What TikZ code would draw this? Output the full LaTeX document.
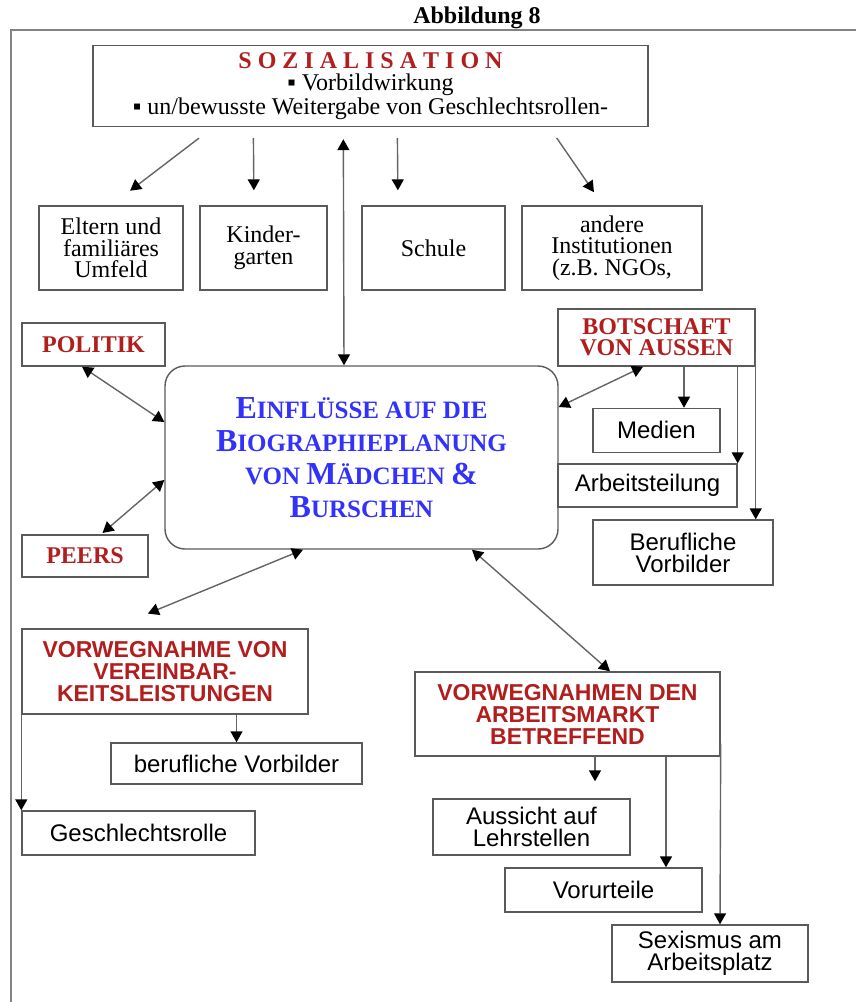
\documentclass[tikz,border=0pt]{standalone}
\usepackage{fontspec}
\setmainfont{Liberation Serif}
\setsansfont{Liberation Sans}
\usetikzlibrary{arrows.meta, positioning}
\definecolor{headred}{RGB}{178,30,30}
\definecolor{mainblue}{RGB}{50,50,250}
\definecolor{boxgray}{RGB}{90,90,90}
\definecolor{linegray}{RGB}{100,100,100}
\tikzstyle{box} = [rectangle, draw=boxgray, line width=0.7pt, inner sep=0pt, align=center, font=\fontsize{12}{10.8}\selectfont]
\tikzstyle{sansbox} = [box, font=\sffamily\fontsize{12}{11}\selectfont]
\tikzstyle{redbox} = [box, text=headred, font=\bfseries\fontsize{12}{10.5}\selectfont]
\tikzstyle{redsansbox} = [box, text=headred, font=\sffamily\bfseries\fontsize{11.5}{11}\selectfont]
\tikzstyle{mainbox} = [box, rounded corners=10pt, text=mainblue, font=\bfseries\fontsize{12.5}{16.5}\selectfont]
\tikzstyle{arrow} = [draw=linegray, line width=0.7pt, -{Triangle[length=5.5pt,width=6pt,color=black]}]
\tikzstyle{dblarrow} = [arrow, {Triangle[length=5.5pt,width=6pt,color=black]}-{Triangle[length=5.5pt,width=6pt,color=black]}]
\newcommand{\initcap}[1]{{\fontsize{16}{16.5}\selectfont #1}}

\begin{document}
\begin{tikzpicture}[x=0.5pt, y=-0.5pt]
\useasboundingbox (0,0) rectangle (856,1002);
% Frame and title
\draw [linegray!80, line width=0.7pt] (11,1002) -- (11,30) -- (856,30);
\node (title) at (477,18) {\bfseries\fontsize{12}{14}\selectfont Abbildung 8};
% Row 1
\node (soz) [box, minimum width=277.5pt, minimum height=40.5pt] at (370.5,86) {{\color{headred}\bfseries S O Z I A L I S A T I O N}\\▪ Vorbildwirkung\\▪ un/bewusste Weitergabe von Geschlechtsrollen-};
% Row 2
\node (eltern) [box, minimum width=72pt, minimum height=42pt] at (111,248) {Eltern und\\familiäres\\Umfeld};
\node (kinder) [box, minimum width=63.5pt, minimum height=42pt] at (263.5,248) {Kinder-\\garten};
\node (schule) [box, minimum width=71.5pt, minimum height=42pt] at (433.5,248) {Schule};
\node (andere) [box, minimum width=90pt, minimum height=42pt] at (612,248) {andere\\Institutionen\\(z.B. NGOs,};
% Row 3
\node (politik) [redbox, minimum width=71.5pt, minimum height=21.5pt] at (93.5,344.5) {POLITIK};
\node (main) [mainbox, minimum width=196.5pt, minimum height=91.5pt] at (361.5,457.5) {\initcap{E}INFLÜSSE AUF DIE\\\initcap{B}IOGRAPHIEPLANUNG\\VON \initcap{M}ÄDCHEN \initcap{\&}\\\initcap{B}URSCHEN};
\node (peers) [redbox, minimum width=63pt, minimum height=21pt] at (85,556) {PEERS};
\node (botschaft) [redbox, minimum width=98.5pt, minimum height=28.5pt] at (656.5,337.5) {BOTSCHAFT\\VON AUSSEN};
\node (medien) [sansbox, minimum width=63.5pt, minimum height=22pt, below=20.5pt of botschaft] {Medien};
\node (arbeit) [sansbox, minimum width=89.5pt, minimum height=21.5pt] at (647.5,485.5) {Arbeitsteilung};
\node (beruf) [sansbox, minimum width=90pt, minimum height=32.5pt] at (683,552.5) {Berufliche\\Vorbilder};
% Row 4
\node (vorweg1) [redsansbox, minimum width=143pt, minimum height=42.5pt] at (165,671.5) {VORWEGNAHME VON\\VEREINBAR-\\KEITSLEISTUNGEN};
\node (berufv) [sansbox, minimum width=125.5pt, minimum height=20.5pt] at (236.5,763.5) {berufliche Vorbilder};
\node (geschl) [sansbox, minimum width=116.5pt, minimum height=22pt] at (138.5,833) {Geschlechtsrolle};
\node (vorweg2) [redsansbox, minimum width=152.5pt, minimum height=42pt] at (567.5,714) {VORWEGNAHMEN DEN\\ARBEITSMARKT\\BETREFFEND};
\node (aussicht) [sansbox, minimum width=98.5pt, minimum height=28pt] at (531.5,827) {Aussicht auf\\Lehrstellen};
\node (vorurteile) [sansbox, minimum width=98.5pt, minimum height=22pt] at (603.5,890) {Vorurteile};
\node (sexismus) [sansbox, minimum width=98pt, minimum height=28.5pt] at (710,953.5) {Sexismus am\\Arbeitsplatz};

% Arrows
\draw [arrow, shorten <=9pt, shorten >=12pt] ([xshift=60.5pt]soz.south west) -- (eltern.north);
\draw [arrow, shorten <=5.5pt, shorten >=7.5pt] ([xshift=80.5pt]soz.south west) -- ([xshift=-4.75pt]kinder.north);
\draw [arrow, shorten <=5.5pt, shorten >=7.5pt] ([xshift=152.5pt]soz.south west) -- ([xshift=-17.75pt]schule.north);
\draw [arrow, shorten <=6.5pt, shorten >=8pt] ([xshift=228.5pt]soz.south west) -- ([xshift=-4.5pt]andere.north);
\draw [dblarrow, shorten >=6pt] ([xshift=-8.75pt]main.north) -- ([xshift=125.5pt]soz.south west);
\draw [dblarrow] ([xshift=-5.75pt]politik.south) -- ([yshift=17.75pt]main.west);
\draw [dblarrow, shorten <=1pt] ([xshift=8pt]peers.north) -- ([yshift=-11.25pt]main.west);
\draw [dblarrow] ([xshift=-6.75pt]botschaft.south) -- ([yshift=25.25pt]main.east);
\draw [arrow] ([xshift=13.75pt]botschaft.south) -- ([xshift=13.75pt]medien.north);
\draw [arrow] (botschaft.south -| arbeit.north east) -- (arbeit.north east);
\draw [arrow] ([yshift=7pt]botschaft.south east) -- (botschaft.south east |- beruf.north);
\draw [dblarrow, shorten >=19.4pt] ([xshift=-29.25pt]main.south) -- ([xshift=-26.5pt]vorweg1.north);
\draw [arrow] ([xshift=35.75pt]vorweg1.south) -- (berufv.north);
\draw [arrow] (vorweg1.south west) -- (geschl.north west);
\draw [dblarrow] ([xshift=55.25pt]main.south) -- ([xshift=21.25pt]vorweg2.north);
\draw [arrow, shorten >=8.5pt] ([xshift=13.75pt]vorweg2.south) -- ([xshift=31.75pt]aussicht.north);
\draw [arrow] ([xshift=49.25pt]vorweg2.south) -- ([xshift=31.25pt]vorurteile.north);
\draw [arrow] ([yshift=6.5pt]vorweg2.south east) -- ([xshift=5pt]sexismus.north);
\end{tikzpicture}
\end{document}
